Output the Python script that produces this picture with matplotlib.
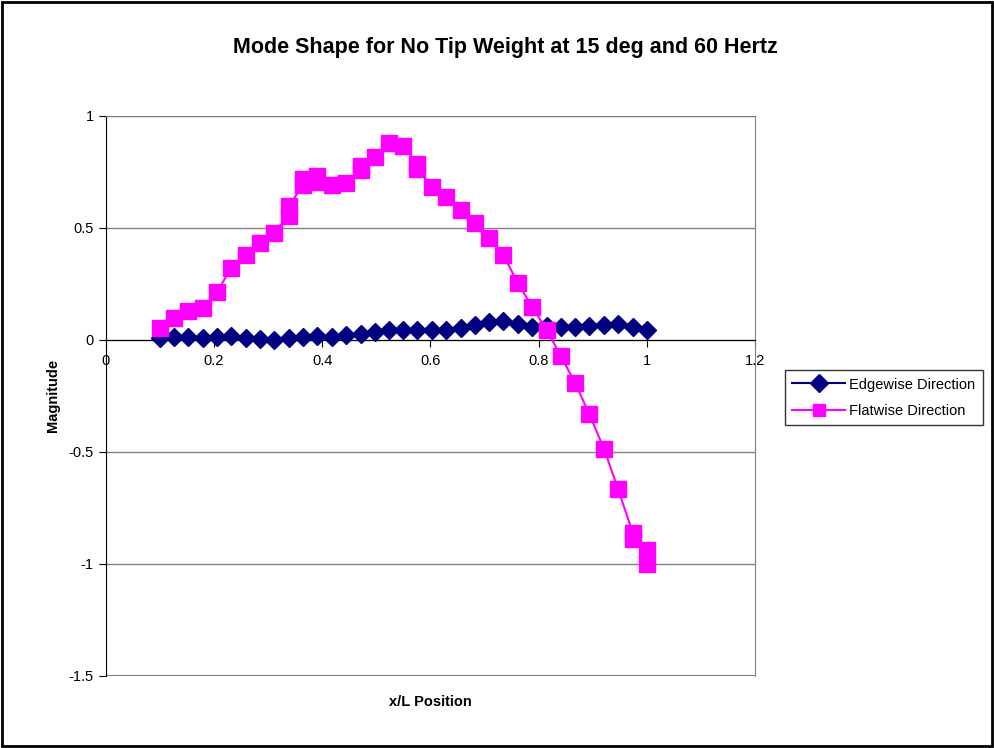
import matplotlib
matplotlib.use("Agg")
import matplotlib.pyplot as plt
from matplotlib.patches import Rectangle

plt.rcParams['font.family'] = ['Liberation Sans', 'DejaVu Sans']

# x/L positions of the measurement stations
edge_x = [0.100, 0.126, 0.153, 0.179, 0.206, 0.232, 0.259, 0.285, 0.312, 0.338,
          0.365, 0.391, 0.418, 0.444, 0.471, 0.497, 0.524, 0.550, 0.576, 0.603,
          0.629, 0.656, 0.682, 0.709, 0.735, 0.762, 0.788, 0.815, 0.841, 0.868,
          0.894, 0.921, 0.947, 0.974, 1.000]
edge_y = [0.010, 0.013, 0.013, 0.006, 0.013, 0.016, 0.010, 0.003, 0.000, 0.006,
          0.013, 0.016, 0.013, 0.021, 0.025, 0.033, 0.043, 0.046, 0.043, 0.043,
          0.046, 0.051, 0.065, 0.080, 0.085, 0.072, 0.058, 0.060, 0.055, 0.055,
          0.060, 0.066, 0.072, 0.058, 0.046]

# flatwise has two readings at some stations
flat_x = [0.100, 0.126, 0.153, 0.179, 0.206, 0.232, 0.259, 0.285, 0.312, 0.338,
          0.338, 0.365, 0.365, 0.391, 0.391, 0.418, 0.444, 0.471, 0.471, 0.497,
          0.524, 0.550, 0.576, 0.576, 0.603, 0.629, 0.656, 0.682, 0.709, 0.735,
          0.762, 0.788, 0.815, 0.841, 0.868, 0.894, 0.921, 0.947, 0.974, 0.974,
          1.000, 1.000]
flat_y = [0.051, 0.096, 0.130, 0.141, 0.215, 0.320, 0.378, 0.431, 0.478, 0.554,
          0.597, 0.690, 0.716, 0.731, 0.705, 0.690, 0.698, 0.757, 0.775, 0.817,
          0.880, 0.865, 0.785, 0.760, 0.683, 0.639, 0.579, 0.520, 0.453, 0.378,
          0.252, 0.148, 0.044, -0.072, -0.194, -0.333, -0.487, -0.667, -0.860, -0.890,
          -0.937, -1.000]

xticks = [0, 0.2, 0.4, 0.6, 0.8, 1, 1.2]
xtick_labels = ['0', '0.2', '0.4', '0.6', '0.8', '1', '1.2']
yticks = [-1.5, -1, -0.5, 0, 0.5, 1]
ytick_labels = ['-1.5', '-1', '-0.5', '0', '0.5', '1']

fig = plt.figure(figsize=(9.95, 7.48), dpi=100)
ax = fig.add_axes([0.1062, 0.0963, 0.6526, 0.749])

ax.plot(edge_x, edge_y, color='#000080', lw=1.5, marker='D', markersize=9,
        markeredgecolor='#000080', label='Edgewise Direction', zorder=3)
ax.plot(flat_x, flat_y, color='#FF00FF', lw=1.5, marker='s', markersize=11,
        markeredgecolor='#FF00FF', label='Flatwise Direction', zorder=4)

ax.set_xlim(0, 1.2)
ax.set_ylim(-1.5, 1)
ax.set_xticks(xticks)
ax.set_xticklabels(xtick_labels)
ax.set_yticks(yticks)
ax.set_yticklabels(ytick_labels)

ax.yaxis.grid(True, color='#808080', lw=1)
ax.set_axisbelow(True)

ax.spines['bottom'].set_position(('data', 0))
ax.spines['bottom'].set_color('black')
ax.spines['left'].set_color('black')
ax.spines['top'].set_color('#808080')
ax.spines['right'].set_color('#808080')
ax.axhline(-1.5, color='#808080', lw=1.5, zorder=1)

ax.tick_params(axis='both', direction='out', length=5, labelsize=10.5, color='black')
ax.tick_params(axis='x', pad=5)

fig.text(0.508, 0.936, 'Mode Shape for No Tip Weight at 15 deg and 60 Hertz',
         ha='center', va='center', fontsize=15.5, fontweight='bold')
fig.text(0.4324, 0.061, 'x/L Position', ha='center', va='center',
         fontsize=10.5, fontweight='bold')
fig.text(0.053, 0.471, 'Magnitude', ha='center', va='center', rotation=90,
         fontsize=10.5, fontweight='bold')

leg = fig.legend(loc='upper left', bbox_to_anchor=(0.789, 0.505), fontsize=10.5,
                 frameon=True, fancybox=False, edgecolor='black', handlelength=3.6,
                 borderpad=0.5, labelspacing=0.85, handletextpad=0.3,
                 borderaxespad=0)
leg.get_frame().set_linewidth(1)
for h in leg.legend_handles:
    h.set_markersize(9)

fig.patches.append(Rectangle((0.002, 0.003), 0.995, 0.994, transform=fig.transFigure,
                             fill=False, edgecolor='black', lw=2))

fig.savefig('out.png', dpi=100)
